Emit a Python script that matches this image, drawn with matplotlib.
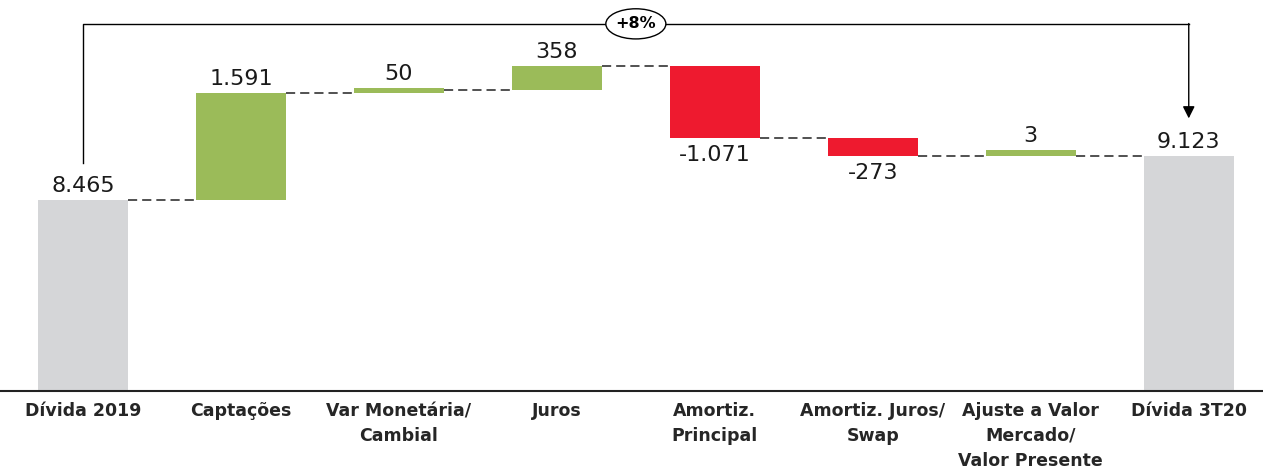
import matplotlib
matplotlib.use("Agg")
import numpy as np
import matplotlib.pyplot as plt
from matplotlib.patches import Ellipse

# data
categories = ["Dívida 2019", "Captações", "Var Monetária/\nCambial", "Juros",
              "Amortiz.\nPrincipal", "Amortiz. Juros/\nSwap",
              "Ajuste a Valor\nMercado/\nValor Presente", "Dívida 3T20"]
values = [8465, 1591, 50, 358, -1071, -273, 3, 9123]
value_labels = ["8.465", "1.591", "50", "358", "-1.071", "-273", "3", "9.123"]
is_total = [True, False, False, False, False, False, False, True]
change_label = "+8%"

GREEN = "#9BBB59"
RED = "#EE1A2F"
GREY = "#D5D6D8"
MIN_H = 85          # smallest drawn height so tiny steps stay visible
BAR_W = 0.57

plt.rcParams["font.family"] = ["DejaVu Sans"]

fig = plt.figure(figsize=(12.63, 4.76), dpi=100)
ax = fig.add_axes([0, 85 / 476, 1, 391 / 476])

x = np.arange(len(values))
bottoms, heights, colors, levels = [], [], [], []
running = 0
for v, tot in zip(values, is_total):
    if tot:
        bottoms.append(0)
        heights.append(v)
        colors.append(GREY)
        running = v
    else:
        h = v if abs(v) >= MIN_H else np.sign(v) * MIN_H
        bottoms.append(running)
        heights.append(h)
        colors.append(GREEN if v > 0 else RED)
        running += v
    levels.append(running)

ax.bar(x, heights, bottom=bottoms, width=BAR_W, color=colors, zorder=2)

# dashed connectors
for i in range(len(x) - 1):
    ax.plot([x[i] + BAR_W / 2, x[i + 1] - BAR_W / 2], [levels[i], levels[i]],
            ls=(0, (5.5, 3)), color="#333333", lw=1.2, zorder=1)

# value labels
for xi, b, h, v, lab in zip(x, bottoms, heights, values, value_labels):
    if v >= 0:
        ax.annotate(lab, (xi, b + h), xytext=(0, 3), textcoords="offset points",
                    ha="center", va="bottom", fontsize=16, color="#1a1a1a")
    else:
        ax.annotate(lab, (xi, b + h), xytext=(0, -5), textcoords="offset points",
                    ha="center", va="top", fontsize=16, color="#1a1a1a")

# growth bracket
y_top = max(levels) + 630
ax.plot([x[0], x[0], x[-1]], [values[0] + 550, y_top, y_top],
        color="black", lw=1.0, zorder=3)
ax.annotate("", xy=(x[-1], values[-1] + 560), xytext=(x[-1], y_top + 5),
            arrowprops=dict(arrowstyle="-|>", color="black", lw=1.0,
                            mutation_scale=18, shrinkA=0, shrinkB=0))
xm = (x[0] + x[-1]) / 2
ax.add_patch(Ellipse((xm, y_top), 0.38, 450, facecolor="white",
                     edgecolor="black", lw=1.0, zorder=4))
ax.text(xm, y_top, change_label, ha="center", va="center", fontsize=11.5,
        fontweight="bold", zorder=5)

ax.set_xlim(-0.525, 7.47)
ax.set_ylim(5614, 11450)
ax.set_xticks(x)
ax.set_xticklabels(categories, fontsize=12.5, fontweight="bold",
                   color="#262626", linespacing=1.48)
ax.tick_params(axis="x", length=0, pad=8)
ax.set_yticks([])
for s in ["top", "left", "right"]:
    ax.spines[s].set_visible(False)
ax.spines["bottom"].set_linewidth(1.5)
ax.spines["bottom"].set_color("#222222")

fig.savefig("out.png", dpi=100)
